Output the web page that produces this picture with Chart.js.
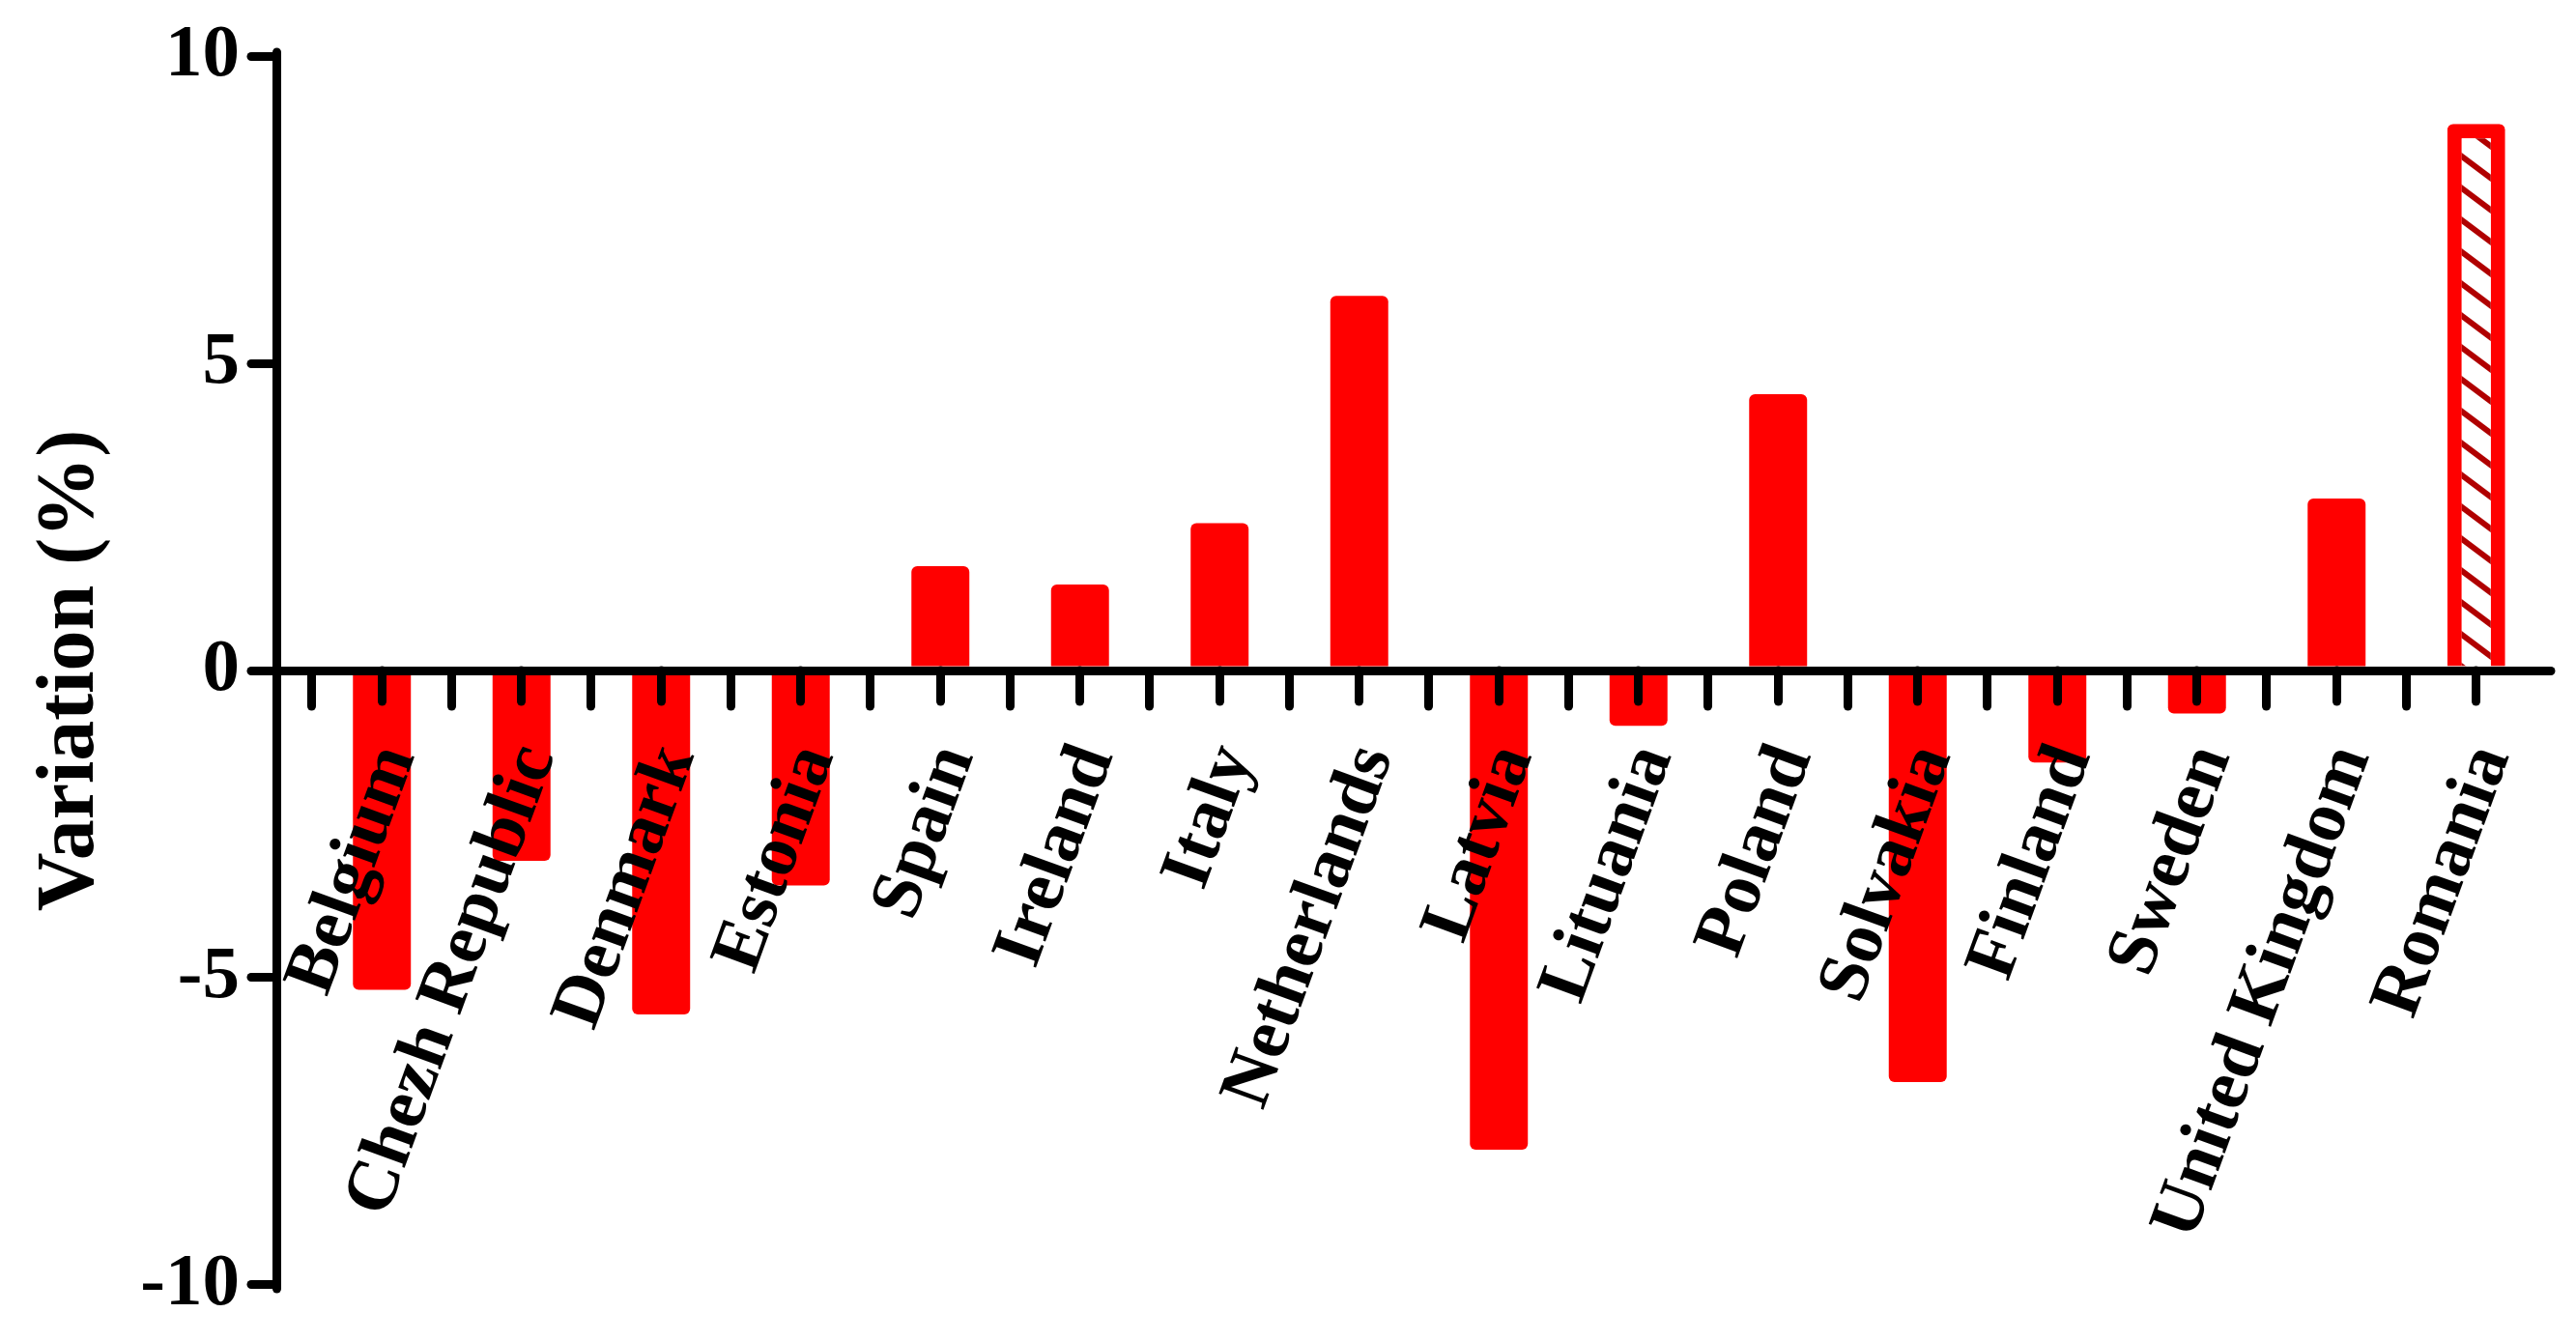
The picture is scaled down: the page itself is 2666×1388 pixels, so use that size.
<!DOCTYPE html>
<html>
<head>
<meta charset="utf-8">
<script src="https://cdn.jsdelivr.net/npm/chart.js@4.4.1/dist/chart.umd.min.js"></script>
<style>
html,body{margin:0;padding:0;background:#ffffff;}
#wrap{width:2666px;height:1388px;}
</style>
</head>
<body>
<div id="wrap"><canvas id="c" width="2666" height="1388"></canvas></div>
<script>
const categories = ['Belgium','Chezh Republic','Denmark','Estonia','Spain','Ireland','Italy','Netherlands','Latvia','Lituania','Poland','Solvakia','Finland','Sweden','United Kingdom','Romania'];
const values = [-5.2,-3.1,-5.6,-3.5,1.7,1.4,2.4,6.1,-7.8,-0.9,4.5,-6.7,-1.5,-0.7,2.8,8.9];
const yTickValues = [-10,-5,0,5,10];
const yTitle = 'Variation (%)';
const hatchedCategory = 'Romania';

const RED = '#ff0000';
const FONT = 'Liberation Serif';

function makeHatch() {
  const c = document.createElement('canvas');
  c.width = 44; c.height = 33;
  const g = c.getContext('2d');
  g.fillStyle = '#ffffff';
  g.fillRect(0, 0, 44, 33);
  g.strokeStyle = '#b00000';
  g.lineWidth = 6;
  for (const k of [-1, 0, 1]) {
    g.beginPath();
    g.moveTo(-44, -33 + k * 33);
    g.lineTo(88, 66 + k * 33);
    g.stroke();
  }
  return g.createPattern(c, 'repeat');
}

// empty space between the y axis and the first category band (in bands)
const GAP = 0.256;
function shiftStart(s) { s._startValue -= GAP; s._valueRange += GAP; }
function noSidePadding(s) { s.paddingLeft = 0; s.paddingRight = 0; }

const roundCaps = { id: 'roundCaps', beforeDraw(chart) { chart.ctx.lineCap = 'round'; } };

function draw() {
  Chart.defaults.font.family = FONT;
  Chart.defaults.font.weight = 'bold';
  Chart.defaults.color = '#000';
  const hatch = makeHatch();
  new Chart(document.getElementById('c'), {
    type: 'bar',
    data: {
      labels: categories,
      datasets: [{
        data: values,
        backgroundColor: categories.map(c => c === hatchedCategory ? hatch : RED),
        borderColor: RED,
        borderWidth: categories.map(c => c === hatchedCategory ? 15 : 0),
        borderRadius: 6,
        barPercentage: 0.415,
        categoryPercentage: 1.0
      }]
    },
    options: {
      responsive: false,
      animation: false,
      devicePixelRatio: 1,
      layout: { padding: { left: 0, top: 56, right: 31, bottom: 57 } },
      plugins: { legend: { display: false }, tooltip: { enabled: false } },
      scales: {
        y: {
          min: -10, max: 10,
          afterBuildTicks: s => { s.ticks = yTickValues.map(v => ({ value: v })); },
          afterFit: s => { s.width = 286; },
          border: { display: true, width: 9, color: '#000', z: 1 },
          grid: { z: 1, drawOnChartArea: false, drawTicks: true, tickLength: 26, lineWidth: 9, tickWidth: 9, color: '#000', tickColor: '#000' },
          ticks: { z: 1, font: { family: FONT, size: 77, weight: 'bold' }, color: '#000', padding: 12 },
          title: { display: true, text: yTitle, font: { family: FONT, size: 84, weight: 'bold' }, color: '#000', padding: { top: 24, bottom: 0 } }
        },
        x: {
          type: 'category',
          position: { y: 0 },
          offset: true,
          afterBuildTicks: shiftStart,
          afterFit: noSidePadding,
          border: { display: true, width: 9, color: '#000', z: 2 },
          grid: {
            z: 2,
            offset: true, drawOnChartArea: false, drawTicks: true, tickLength: 32,
            lineWidth: 9, tickWidth: 9,
            color: '#000',
            tickColor: ctx => (ctx.index === undefined ? 'rgba(0,0,0,0)' : '#000')
          },
          ticks: {
            z: 2,
            autoSkip: false, minRotation: 70, maxRotation: 70,
            font: { family: FONT, size: 75, weight: 'bold' }, color: '#000',
            padding: 34, labelOffset: 16
          }
        },
        x2: {
          type: 'category',
          labels: categories,
          position: { y: 0 },
          offset: true,
          afterBuildTicks: shiftStart,
          afterFit: noSidePadding,
          border: { display: false },
          grid: { z: 2, offset: false, drawOnChartArea: false, drawTicks: true, tickLength: 32, lineWidth: 9, tickWidth: 9, color: '#000', tickColor: '#000' },
          ticks: { display: false }
        }
      }
    },
    plugins: [roundCaps]
  });
}

Promise.all([
  document.fonts.load("bold 75px 'Liberation Serif'"),
  document.fonts.load("bold 84px 'Liberation Serif'")
]).then(draw, draw);
</script>
</body>
</html>
